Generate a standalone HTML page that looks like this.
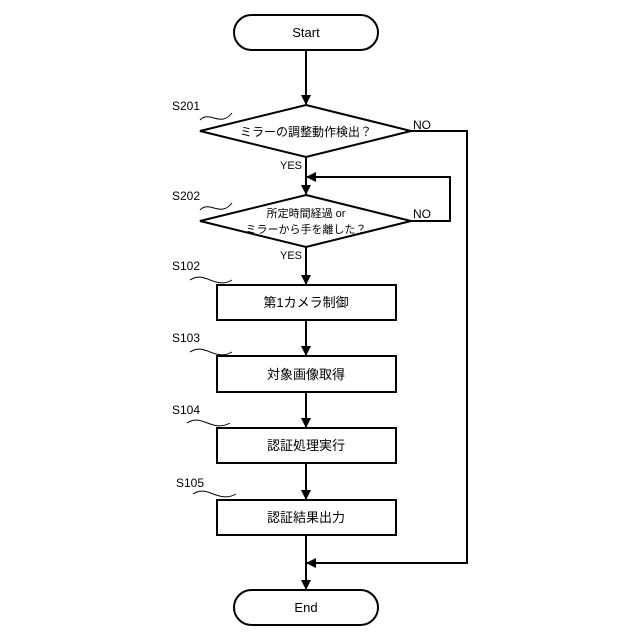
<!DOCTYPE html>
<html><head><meta charset="utf-8"><style>body{margin:0;background:#fff}svg{display:block}text{font-family:"Liberation Sans","Noto Sans CJK JP",sans-serif;fill:#000}</style></head><body>
<svg width="640" height="640" viewBox="0 0 640 640" xmlns="http://www.w3.org/2000/svg">
<defs><marker id="a" markerWidth="10" markerHeight="10" refX="9" refY="5" orient="auto" markerUnits="userSpaceOnUse"><path d="M0,0 L10,5 L0,10 z" fill="#000"/></marker></defs>
<g stroke="#000" stroke-width="2" fill="none">
<rect x="234" y="15" width="144" height="35" rx="17.5" fill="#fff"/>
<rect x="234" y="590" width="144" height="35" rx="17.5" fill="#fff"/>
<polygon points="306,105 411,131 306,157 200,131" fill="#fff"/>
<polygon points="306,195 411,221 306,247 200,221" fill="#fff"/>
<rect x="217" y="285" width="179" height="35"/>
<rect x="217" y="356" width="179" height="36"/>
<rect x="217" y="428" width="179" height="35"/>
<rect x="217" y="500" width="179" height="35"/>
<line x1="306" y1="50" x2="306" y2="104" marker-end="url(#a)"/>
<line x1="306" y1="157" x2="306" y2="194" marker-end="url(#a)"/>
<line x1="306" y1="247" x2="306" y2="284" marker-end="url(#a)"/>
<line x1="306" y1="320" x2="306" y2="355" marker-end="url(#a)"/>
<line x1="306" y1="392" x2="306" y2="427" marker-end="url(#a)"/>
<line x1="306" y1="463" x2="306" y2="499" marker-end="url(#a)"/>
<line x1="306" y1="535" x2="306" y2="589" marker-end="url(#a)"/>
<polyline points="411,221 450,221 450,177 307,177" marker-end="url(#a)"/>
<polyline points="411,131 467,131 467,563 307,563" marker-end="url(#a)"/>
<g stroke-width="1">
<path d="M200,120 C210,110 220,128 232,113"/>
<path d="M200,210 C210,200 220,218 232,203"/>
<path d="M190,280 C205,270 215,290 232,280"/>
<path d="M190,352 C205,342 215,362 232,352"/>
<path d="M187,423 C202,413 212,433 230,423"/>
<path d="M193,494 C208,484 218,504 236,494"/>
</g>
</g>
<g font-size="13" text-anchor="middle">
<text x="306" y="37">Start</text>
<text x="306" y="612">End</text>
<text x="306" y="136" font-size="12">ミラーの調整動作検出？</text>
<text x="306" y="217" font-size="11">所定時間経過 or</text>
<text x="306" y="233" font-size="11">ミラーから手を離した？</text>
<text x="306" y="307">第1カメラ制御</text>
<text x="306" y="379">対象画像取得</text>
<text x="306" y="450">認証処理実行</text>
<text x="306" y="522">認証結果出力</text>
</g>
<g font-size="12">
<text x="172" y="110">S201</text>
<text x="172" y="200">S202</text>
<text x="172" y="270">S102</text>
<text x="172" y="342">S103</text>
<text x="172" y="414">S104</text>
<text x="176" y="487">S105</text>
<text x="413" y="129">NO</text>
<text x="413" y="218">NO</text>
<text x="280" y="169" font-size="11">YES</text>
<text x="280" y="259" font-size="11">YES</text>
</g>
</svg>
</body></html>
